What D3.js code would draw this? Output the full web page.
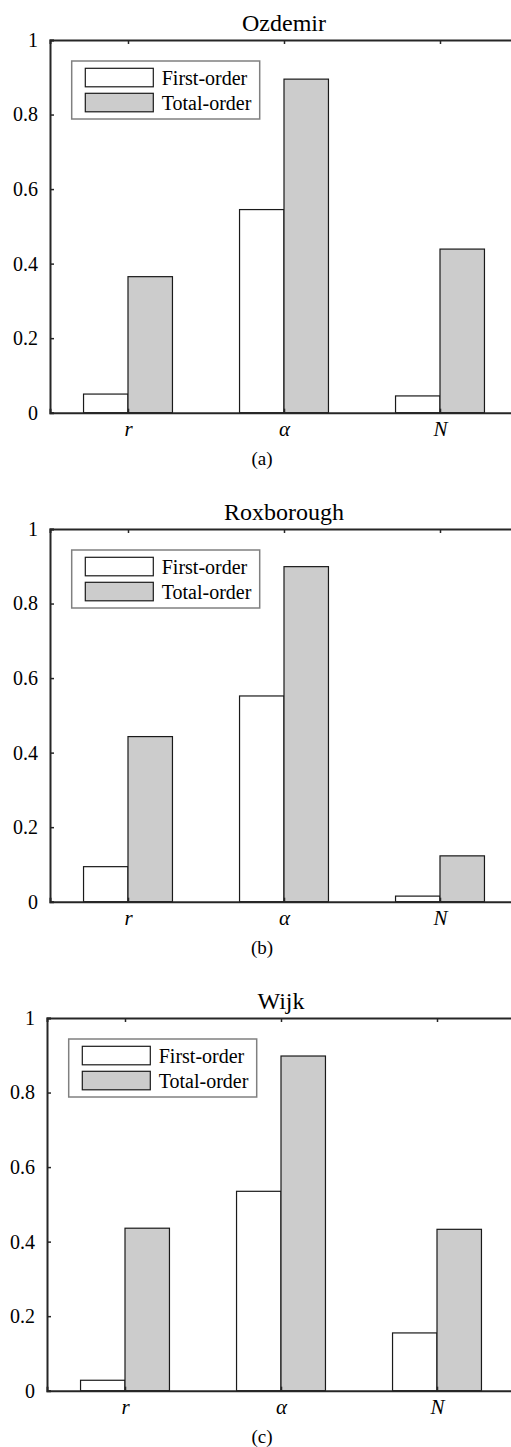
<!DOCTYPE html>
<html>
<head>
<meta charset="utf-8">
<script src="https://cdn.jsdelivr.net/npm/d3@7/dist/d3.min.js"></script>
<style>
  html, body { margin: 0; padding: 0; background: #fff; }
  svg { display: block; }
  svg text { font-family: "Liberation Serif", "DejaVu Serif", "Noto Serif", "Times New Roman", serif; fill: #000; }
</style>
</head>
<body>
<svg id="fig" width="511" height="1447"></svg>
<script>
// Sensitivity indices of the three parameters, one panel per model
const categories = ["r", "α", "N"];
const seriesNames = ["First-order", "Total-order"];
const yTicks = [0, 0.2, 0.4, 0.6, 0.8, 1];

const panelTitles = ["Ozdemir", "Roxborough", "Wijk"];
const panelTags = ["(a)", "(b)", "(c)"];

const ozdemirFirst = [0.050, 0.545, 0.045];
const ozdemirTotal = [0.365, 0.895, 0.439];
const roxboroughFirst = [0.094, 0.552, 0.015];
const roxboroughTotal = [0.443, 0.899, 0.123];
const wijkFirst = [0.028, 0.535, 0.155];
const wijkTotal = [0.436, 0.898, 0.433];

const panelFirst = [ozdemirFirst, roxboroughFirst, wijkFirst];
const panelTotal = [ozdemirTotal, roxboroughTotal, wijkTotal];

// layout of each axes box (left edge, top edge, height); width runs past the page edge
const frames = [
  { left: 50, top: 40, height: 372.7 },
  { left: 50, top: 529, height: 372.7 },
  { left: 47, top: 1018, height: 372.7 }
];
const axisWidth = 468;
const barWidth = 0.285;             // in category units
const fills = ["#ffffff", "#cccccc"];
const axisColor = "#262626";
const serif = "'Liberation Serif', 'DejaVu Serif', 'Noto Serif', serif";

const svg = d3.select("#fig");

frames.forEach((f, p) => {
  const g = svg.append("g").attr("transform", `translate(${f.left},${f.top})`);

  const x = d3.scaleLinear().domain([0.5, categories.length + 0.5]).range([0, axisWidth]);
  const y = d3.scaleLinear().domain([0, 1]).range([f.height, 0]);

  const rows = categories.map((c, i) => ({
    idx: i + 1,
    values: [panelFirst[p][i], panelTotal[p][i]]
  }));

  // bars
  rows.forEach(row => {
    row.values.forEach((v, s) => {
      const x0 = s === 0 ? row.idx - barWidth : row.idx;
      g.append("rect")
        .attr("x", x(x0))
        .attr("y", y(v))
        .attr("width", x(x0 + barWidth) - x(x0))
        .attr("height", y(0) - y(v))
        .attr("fill", fills[s])
        .attr("stroke", "#1a1a1a")
        .attr("stroke-width", 1.2);
    });
  });

  // box axes with inward ticks
  const tickVals = categories.map((c, i) => i + 1);
  const bottom = d3.axisBottom(x).tickValues(tickVals).tickSize(-4).tickPadding(8)
    .tickFormat((d) => categories[d - 1]);
  const top = d3.axisTop(x).tickValues(tickVals).tickSize(-4).tickFormat("");
  const left = d3.axisLeft(y).tickValues(yTicks).tickSize(-4).tickPadding(12)
    .tickFormat(d => d === 0 || d === 1 ? d3.format("d")(d) : d3.format(".1f")(d));
  const right = d3.axisRight(y).tickValues(yTicks).tickSize(-4).tickFormat("");

  const gb = g.append("g").attr("transform", `translate(0,${f.height})`).call(bottom);
  const gt = g.append("g").call(top);
  const gl = g.append("g").call(left);
  const gr = g.append("g").attr("transform", `translate(${axisWidth},0)`).call(right);

  [gb, gt, gl, gr].forEach(a => {
    a.attr("font-family", serif);
    a.select(".domain").attr("stroke", axisColor).attr("stroke-width", 2);
    a.selectAll(".tick line").attr("stroke", axisColor).attr("stroke-width", 1.5);
  });
  gl.selectAll(".tick text")
    .attr("font-size", 20)
    .attr("fill", "#000");
  gb.selectAll(".tick text")
    .attr("font-size", 21)
    .attr("font-style", "italic")
    .attr("fill", "#000")
    .attr("dy", "0.71em");

  // title
  g.append("text")
    .attr("x", axisWidth / 2)
    .attr("y", -9)
    .attr("text-anchor", "middle")
    .attr("font-size", 24)
    .text(panelTitles[p]);

  // legend
  const lg = g.append("g").attr("transform", "translate(21.7,21)");
  lg.append("rect")
    .attr("x", 0).attr("y", 0).attr("width", 188).attr("height", 58)
    .attr("fill", "#fff").attr("stroke", "#808080").attr("stroke-width", 1.5);
  seriesNames.forEach((name, s) => {
    lg.append("rect")
      .attr("x", 13.6).attr("y", 7.3 + s * 25)
      .attr("width", 68).attr("height", 18.5)
      .attr("fill", fills[s]).attr("stroke", "#1a1a1a").attr("stroke-width", 1.2);
    lg.append("text")
      .attr("x", 90).attr("y", 16.5 + s * 25)
      .attr("dy", "0.35em")
      .attr("font-size", 20)
      .text(name);
  });

  // panel tag below the axes
  svg.append("text")
    .attr("x", 262)
    .attr("y", f.top + f.height + 52)
    .attr("text-anchor", "middle")
    .attr("font-size", 19)
    .text(panelTags[p]);
});
</script>
</body>
</html>
